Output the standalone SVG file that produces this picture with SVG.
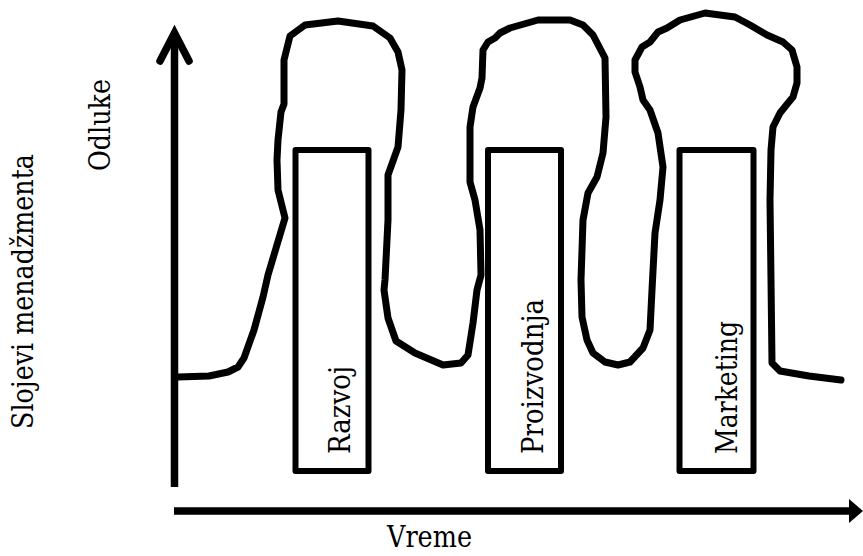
<svg xmlns="http://www.w3.org/2000/svg" width="863" height="556" viewBox="0 0 863 556">
<style>
.lbl{font-family:'DejaVu Serif',serif;font-size:29px;fill:#000}
.box{fill:none;stroke:#000;stroke-width:6;stroke-linejoin:round}
.axis{stroke:#000;stroke-width:7.5;fill:none}
.curve{fill:none;stroke:#000;stroke-width:7;stroke-linejoin:round;stroke-linecap:round}
</style>
<rect width="863" height="556" fill="#fff"/>
<g id="connectors">
<line class="axis" x1="174.5" y1="487" x2="174.5" y2="36"/>
<polyline class="axis" points="160,61 174.5,33 189,61" stroke-linecap="round" stroke-linejoin="miter"/>
<line class="axis" x1="174" y1="511" x2="852" y2="511"/>
<polygon points="849,499 863,511 849,523" fill="#000"/>
<path id="curve" class="curve" d="M178,377 L209,376 L228,372 L238,367 L244,358 L254,330 L263,297 L268,275 L285,218 L278,190 L277,160 L278,140 L281,112 L284,104 L284,60 L290,36 L305,25 L338,21 L373,26 L390,38 L398,52 L402,70 L401,110 L398,147 L388,175 L388,220 L385,280 L384,290 L388,318 L396,341 L415,353 L443,365 L461,363 L468,355 L473,323 L477,290 L481,275 L480,230 L475,200 L470,182 L470,127 L473,107 L480,88 L482,78 L483,50 L488,42 L495,38 L500,33 L510,28 L538,20 L570,20 L583,25 L593,35 L605,58 L606,117 L603,153 L597,177 L588,193 L583,220 L581,280 L582,317 L587,340 L593,353 L605,362 L618,365 L630,362 L643,348 L650,330 L652,290 L655,233 L660,200 L663,167 L658,133 L650,110 L643,100 L640,87 L635,72 L635,60 L642,47 L650,42 L658,32 L667,28 L680,20 L705,13 L735,17 L750,25 L767,35 L783,42 L792,50 L797,67 L797,83 L793,97 L788,103 L780,113 L773,127 L771,150 L770,200 L771,280 L772,363 L780,371 L809,376 L841,380"/>
</g>
<g id="razvoj">
<rect class="box" x="295.5" y="150" width="73" height="321"/>
<text class="lbl" transform="translate(350,454) rotate(-90)" textLength="88" lengthAdjust="spacingAndGlyphs">Razvoj</text>
</g>
<g id="proizvodnja">
<rect class="box" x="488" y="150" width="73" height="321"/>
<text class="lbl" transform="translate(543,454) rotate(-90)" textLength="155" lengthAdjust="spacingAndGlyphs">Proizvodnja</text>
</g>
<g id="marketing">
<rect class="box" x="679.5" y="150" width="74" height="321"/>
<text class="lbl" transform="translate(736.5,454) rotate(-90)" textLength="133" lengthAdjust="spacingAndGlyphs">Marketing</text>
</g>
<g id="axis-labels">
<text class="lbl" transform="translate(33,429) rotate(-90)" textLength="275" lengthAdjust="spacingAndGlyphs">Slojevi menadžmenta</text>
<text class="lbl" transform="translate(109.5,171) rotate(-90)" textLength="92" lengthAdjust="spacingAndGlyphs">Odluke</text>
<text class="lbl" x="387" y="547" textLength="85" lengthAdjust="spacingAndGlyphs">Vreme</text>
</g>
</svg>
